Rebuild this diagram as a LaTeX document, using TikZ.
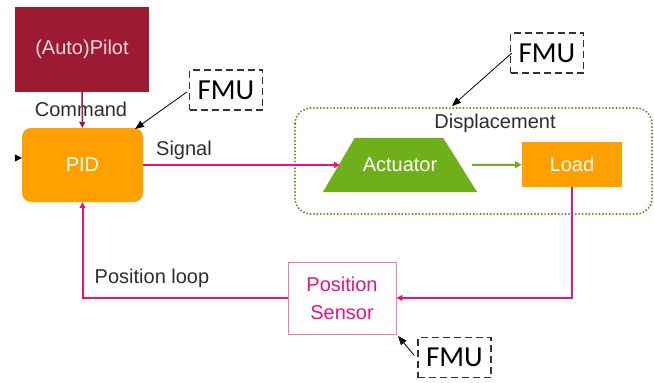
\documentclass[tikz,border=0pt]{standalone}
\usepackage{fontspec}
\setmainfont{Liberation Sans}
\newfontfamily\fmufont{Carlito}
\usetikzlibrary{arrows.meta,calc}

\definecolor{pilotred}{RGB}{157,26,51}
\definecolor{boxorange}{RGB}{255,159,0}
\definecolor{actgreen}{RGB}{111,175,26}
\definecolor{dotgreen}{RGB}{91,143,46}
\definecolor{looppink}{RGB}{230,20,127}
\definecolor{sensorpink}{RGB}{242,123,179}
\definecolor{labelgray}{RGB}{45,45,45}

\begin{document}
\begin{tikzpicture}[x=1pt,y=-1pt,
    block/.style={rectangle, fill=boxorange, text=white, inner sep=0pt,
        font=\fontsize{20}{24}\selectfont},
    fmubox/.style={draw=black!80, dash pattern=on 7pt off 4pt, line width=1.3pt,
        minimum width=73pt, minimum height=40pt, inner sep=0pt,
        font=\fmufont\fontsize{29}{30}\selectfont},
    lbl/.style={text=labelgray, inner sep=0pt, font=\fontsize{20}{24}\selectfont},
    loop/.style={draw=looppink, line width=2pt, -{Triangle[length=6pt,width=6pt]}},
    fmuarrow/.style={draw=black, line width=0.8pt, -{Triangle[length=9pt,width=7pt]}}
]
    \useasboundingbox (0,0) rectangle (654,383);

    % Blocks
    \node[block, fill=pilotred, text=pilotred!15, minimum width=134pt, minimum height=85pt]
        (pilot) at (82,49.5) {(Auto)Pilot};
    \node[block, rounded corners=9pt, minimum width=121pt, minimum height=74pt]
        (pid) at (82.5,165) {PID};
    \node[block, fill=none, minimum width=154pt, minimum height=54pt] (act) at (400,165) {};
    \fill[actgreen] (act.south west) -- (act.south east)
        -- ($(act.north east)+(-34,0)$) -- ($(act.north west)+(32,0)$) -- cycle;
    \node[block, fill=none] at (act) {Actuator};
    \node[block, minimum width=100pt, minimum height=45pt] (load) at (572,164.5) {Load};
    \node[rectangle, draw=sensorpink, line width=0.9pt, text=looppink, align=center,
        minimum width=108pt, minimum height=72pt, inner sep=0pt,
        font=\fontsize{20}{28}\selectfont] (sensor) at (342,298) {Position\\Sensor};
    \coordinate (actin) at (340,165);
    \coordinate (actout) at (472,165);

    % Displacement group
    \draw[dotgreen, line width=2.2pt, line cap=round, dash pattern=on 0pt off 3.4pt,
        rounded corners=16pt] (295,108) rectangle (652,214);
    \node[lbl] (disp) at (495,123) {Displacement};

    % FMU tags
    \node[fmubox] (fmua) at (226,90) {FMU};
    \node[fmubox] (fmub) at (547,53) {FMU};
    \node[fmubox] (fmuc) at (454.5,357.5) {FMU};
    \coordinate (pidtip) at (135,129);
    \coordinate (disptip) at (452,106);
    \coordinate (sensortip) at (398,336);

    % Labels
    \node[lbl] (cmd) at (81,109) {Command};
    \node[lbl] (sig) at (184,150) {Signal};
    \node[lbl] (posloop) at (152,278) {Position loop};

    % Forward path
    \draw[pilotred, line width=1.5pt, -{Triangle[length=6pt,width=6pt]}] (pilot) -- (pid);
    \draw[loop] (pid) -- (actin);
    \draw[actgreen, line width=2pt, -{Triangle[length=7pt,width=7pt]}] (actout) -- (load);

    % Feedback loop
    \draw[loop] (load.south) |- (sensor.east);
    \draw[loop] (sensor.west) -| (pid.south);

    % Input tip
    \coordinate (inp) at (15,158);
    \draw[-{Triangle[length=7pt,width=7pt]}, line width=0.6pt] (inp) -- (pid.west |- inp);

    % FMU pointers
    \draw[fmuarrow] (fmua.west) ++(-2,2) -- (pidtip);
    \draw[fmuarrow] (fmub.west) ++(2,0) -- (disptip);
    \draw[fmuarrow] (fmuc.west) ++(-3,-2) -- (sensortip);
\end{tikzpicture}
\end{document}
